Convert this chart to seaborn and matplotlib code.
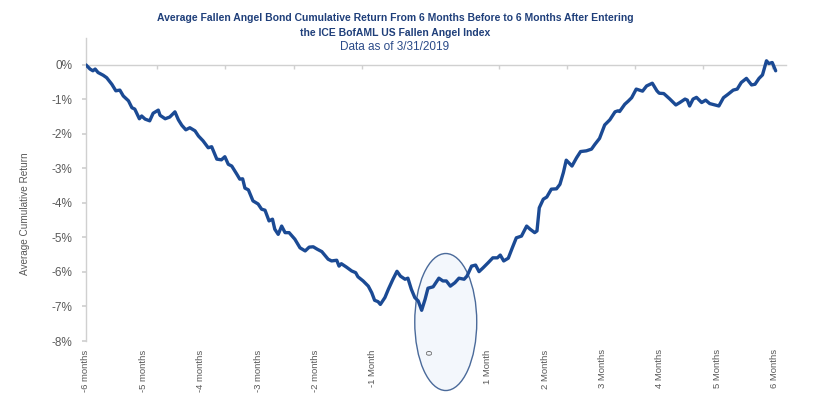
import matplotlib
matplotlib.use("Agg")
import matplotlib.pyplot as plt
import seaborn as sns
import pandas as pd
from matplotlib.patches import Ellipse
from matplotlib.ticker import FuncFormatter, MultipleLocator

# ---- data (months relative to index entry, average cumulative return %) ----
months = [-6.00, -5.93, -5.88, -5.84, -5.79, -5.70, -5.64, -5.55, -5.48, -5.41,
          -5.35, -5.26, -5.20, -5.15, -5.07, -5.03, -4.97, -4.89, -4.83, -4.74,
          -4.71, -4.62, -4.54, -4.45, -4.39, -4.33, -4.26, -4.19, -4.10, -4.04,
          -3.96, -3.87, -3.81, -3.72, -3.64, -3.58, -3.52, -3.46, -3.37, -3.32,
          -3.27, -3.23, -3.17, -3.09, -3.00, -2.94, -2.88, -2.81, -2.75, -2.71,
          -2.65, -2.59, -2.53, -2.46, -2.36, -2.27, -2.18, -2.11, -2.04, -1.97,
          -1.89, -1.78, -1.72, -1.63, -1.59, -1.55, -1.46, -1.37, -1.30, -1.26,
          -1.17, -1.08, -1.02, -0.97, -0.91, -0.87, -0.79, -0.73, -0.65, -0.58,
          -0.52, -0.44, -0.39, -0.33, -0.27, -0.21, -0.15, -0.09, -0.04, 0.05,
          0.15, 0.22, 0.28, 0.35, 0.43, 0.50, 0.59, 0.64, 0.72, 0.79,
          0.85, 0.92, 1.01, 1.09, 1.17, 1.22, 1.28, 1.36, 1.43, 1.50,
          1.59, 1.68, 1.74, 1.82, 1.86, 1.90, 1.97, 2.03, 2.11, 2.20,
          2.26, 2.32, 2.37, 2.47, 2.55, 2.62, 2.72, 2.81, 2.87, 2.95,
          3.04, 3.13, 3.22, 3.27, 3.30, 3.39, 3.45, 3.51, 3.59, 3.70,
          3.77, 3.87, 3.95, 3.99, 4.07, 4.17, 4.28, 4.35, 4.44, 4.48,
          4.52, 4.58, 4.64, 4.73, 4.80, 4.87, 4.96, 5.03, 5.11, 5.19,
          5.28, 5.35, 5.42, 5.51, 5.60, 5.66, 5.73, 5.79, 5.86, 5.90,
          5.96, 6.02]
returns = [0.00, -0.12, -0.17, -0.12, -0.22, -0.30, -0.37, -0.56, -0.75, -0.73,
           -0.90, -1.04, -1.24, -1.28, -1.56, -1.48, -1.57, -1.62, -1.40, -1.31,
           -1.46, -1.56, -1.51, -1.36, -1.59, -1.75, -1.88, -1.82, -1.91, -2.06,
           -2.20, -2.40, -2.37, -2.73, -2.75, -2.66, -2.88, -2.93, -3.17, -3.31,
           -3.30, -3.57, -3.62, -3.94, -4.03, -4.18, -4.21, -4.52, -4.47, -4.76,
           -4.91, -4.67, -4.86, -4.86, -5.05, -5.30, -5.39, -5.28, -5.27, -5.34,
           -5.41, -5.63, -5.68, -5.66, -5.83, -5.76, -5.86, -5.97, -6.02, -6.14,
           -6.26, -6.41, -6.60, -6.82, -6.86, -6.94, -6.74, -6.50, -6.21, -5.98,
           -6.12, -6.21, -6.18, -6.50, -6.74, -6.84, -7.11, -6.79, -6.47, -6.43,
           -6.18, -6.26, -6.26, -6.41, -6.31, -6.18, -6.21, -6.12, -5.83, -5.80,
           -5.99, -5.88, -5.73, -5.59, -5.59, -5.51, -5.68, -5.60, -5.30, -5.01,
           -4.96, -4.67, -4.76, -4.86, -4.81, -4.14, -3.89, -3.83, -3.60, -3.59,
           -3.46, -3.12, -2.76, -2.93, -2.69, -2.51, -2.49, -2.44, -2.30, -2.13,
           -1.74, -1.59, -1.36, -1.33, -1.35, -1.14, -1.05, -0.95, -0.70, -0.76,
           -0.61, -0.53, -0.75, -0.82, -0.83, -0.98, -1.16, -1.09, -0.99, -1.02,
           -1.19, -0.99, -0.94, -1.09, -1.02, -1.12, -1.16, -1.19, -0.95, -0.85,
           -0.73, -0.70, -0.51, -0.39, -0.58, -0.56, -0.39, -0.29, 0.12, 0.04,
           0.07, -0.17]

tick_months = [-6, -5, -4, -3, -2, -1, 0, 1, 2, 3, 4, 5, 6]
tick_labels = ["-6 months", "-5 months", "-4 months", "-3 months", "-2 months",
               "-1 Month", "0", "1 Month", "2 Months", "3 Months", "4 Months",
               "5 Months", "6 Months"]
y_ticks = [0, -1, -2, -3, -4, -5, -6, -7, -8]

title_lines = ["Average Fallen Angel Bond Cumulative Return From 6 Months Before to 6 Months After Entering",
               "the ICE BofAML US Fallen Angel Index"]
subtitle = "Data as of 3/31/2019"
y_label = "Average Cumulative Return"

# ---- style ----
sns.set_theme(style="white")
plt.rcParams["font.family"] = ["Liberation Sans", "DejaVu Sans"]

navy = "#1F3F7A"
line_col = "#1B4A94"
grey_txt = "#595959"
axis_grey = "#D0D0D0"

fig = plt.figure(figsize=(8.2, 3.95), dpi=100)
ax = fig.add_axes([86 / 820, 1 - 341 / 395, (786 - 86) / 820, (341 - 38) / 395])

df = pd.DataFrame({"month": months, "ret": returns})
sns.lineplot(data=df, x="month", y="ret", ax=ax, color=line_col, linewidth=2.4,
             zorder=3, sort=False)

ax.set_xlim(-6, 6.2)
ax.set_ylim(-8, 0.78)

# ellipse highlighting entry month
ell = Ellipse((0.27, -7.45), width=1.08, height=3.97, facecolor="#F3F7FC",
              edgecolor="#4A6A9A", linewidth=1.0, zorder=0.3, clip_on=False)
ax.add_patch(ell)

# spines
for s in ["right", "bottom"]:
    ax.spines[s].set_visible(False)
ax.spines["left"].set_color(axis_grey)
ax.spines["left"].set_linewidth(1.0)
ax.spines["top"].set_position(("data", 0))
ax.spines["top"].set_color(axis_grey)
ax.spines["top"].set_linewidth(1.0)
ax.spines["top"].set_zorder(2)

# x ticks: labels at bottom, minor tick marks on the zero line
ax.set_xticks(tick_months)
ax.set_xticklabels(tick_labels, rotation=90, fontsize=6.8, color=grey_txt)
ax.xaxis.set_minor_locator(MultipleLocator(25 / 21))
ax.tick_params(axis="x", which="major", bottom=False, top=False, length=0, pad=6)
ax.tick_params(axis="x", which="minor", bottom=False, top=True, direction="in",
               length=3, color=axis_grey, width=1)
for lbl in ax.get_xticklabels():
    lbl.set_verticalalignment("top")

# y ticks
ax.set_yticks(y_ticks)
ax.yaxis.set_major_formatter(FuncFormatter(lambda v, p: f"{int(round(v))}%"))
ax.tick_params(axis="y", which="major", left=True, length=3, color=axis_grey,
               labelsize=8.5, labelcolor=grey_txt, pad=7)

ax.set_xlabel("")
ax.set_ylabel(y_label, fontsize=7.2, color=grey_txt)
ax.yaxis.set_label_coords(-0.08, 0.42)
ax.grid(False)

# titles
fig.text(395 / 820, 1 - 18 / 395, title_lines[0], ha="center", va="center",
         fontsize=7.5, fontweight="bold", color=navy)
fig.text(395 / 820, 1 - 33 / 395, title_lines[1], ha="center", va="center",
         fontsize=7.5, fontweight="bold", color=navy)
fig.text(395 / 820, 1 - 47 / 395, subtitle, ha="center", va="center",
         fontsize=8.5, color="#2A4A88")

fig.savefig("out.png", dpi=100, facecolor="white")
